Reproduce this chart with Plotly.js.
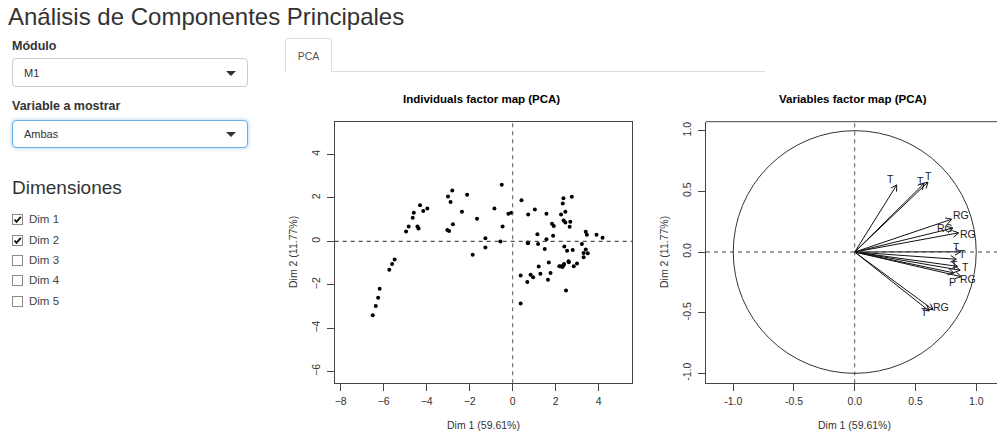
<!DOCTYPE html>
<html>
<head>
<meta charset="utf-8">
<script src="https://cdn.plot.ly/plotly-3.0.1.min.js"></script>
<style>
  html, body { margin:0; padding:0; width:997px; height:433px; overflow:hidden; background:#fff; }
  #plot { position:absolute; left:0; top:0; width:997px; height:433px; }
  .ui { position:absolute; font-family:'Liberation Sans', Arial, sans-serif; color:#333; white-space:nowrap; z-index:5; }
  .lbl { font-weight:bold; font-size:12.5px; line-height:14px; }
  .sel { position:absolute; left:12px; width:236px; border:1px solid #ccc; border-radius:4px; background:#fff; z-index:5; box-sizing:border-box; }
  .sel span { position:absolute; left:11px; font-family:'Liberation Sans', Arial, sans-serif; font-size:11px; color:#333; }
  .caret { position:absolute; right:11px; width:0; height:0; border-left:5px solid transparent; border-right:5px solid transparent; border-top:5px solid #333; }
  .cb { position:absolute; left:12px; width:9px; height:9px; border:1px solid #8a8a8a; background:#fff; z-index:5; }
  .cbl { position:absolute; left:29px; font-family:'Liberation Sans', Arial, sans-serif; font-size:11.5px; color:#444; line-height:12px; z-index:5; }
</style>
</head>
<body>
<div id="plot"></div>

<div class="ui" style="left:8px; top:2px; font-size:24px; line-height:30px;">Análisis de Componentes Principales</div>
<div class="ui lbl" style="left:12px; top:39px;">Módulo</div>
<div class="sel" style="top:58px; height:29px;"><span style="top:8px;">M1</span><div class="caret" style="top:12px;"></div></div>
<div class="ui lbl" style="left:12px; top:99px;">Variable a mostrar</div>
<div class="sel" style="top:120px; height:28px; border-color:#66afe9; box-shadow:0 0 4px rgba(102,175,233,0.6);"><span style="top:7px;">Ambas</span><div class="caret" style="top:11px;"></div></div>
<div class="ui" style="left:12px; top:177px; font-size:19px; line-height:22px;">Dimensiones</div>

<div class="cb" style="top:214px;"><svg width="9" height="9" style="position:absolute;left:0;top:0"><path d="M1.5 4.5 L3.5 6.8 L7.8 1.8" stroke="#111" stroke-width="1.8" fill="none"/></svg></div>
<div class="cbl" style="top:213px;">Dim 1</div>
<div class="cb" style="top:235px;"><svg width="9" height="9" style="position:absolute;left:0;top:0"><path d="M1.5 4.5 L3.5 6.8 L7.8 1.8" stroke="#111" stroke-width="1.8" fill="none"/></svg></div>
<div class="cbl" style="top:234px;">Dim 2</div>
<div class="cb" style="top:255px;"></div>
<div class="cbl" style="top:254px;">Dim 3</div>
<div class="cb" style="top:275px;"></div>
<div class="cbl" style="top:274px;">Dim 4</div>
<div class="cb" style="top:296px;"></div>
<div class="cbl" style="top:295px;">Dim 5</div>

<div style="position:absolute; left:285px; top:71px; width:480px; height:0; border-top:1px solid #ddd; z-index:4;"></div>
<div style="position:absolute; left:285px; top:38px; width:47px; height:34px; border:1px solid #ddd; border-bottom:none; border-radius:4px 4px 0 0; background:#fff; z-index:5; box-sizing:border-box; text-align:center; font-family:'Liberation Sans', Arial, sans-serif; font-size:10.5px; color:#555; line-height:34px;">PCA</div>

<script>
// ---------- Individuals factor map data (Dim 1, Dim 2) ----------
const indDim1 = [-6.51,-6.37,-6.26,-6.19,-5.74,-5.61,-5.49,-4.96,-4.84,-4.65,-4.60,-4.43,-4.38,-4.31,-4.16,-3.97,
  -3.01,-2.89,-2.81,-3.04,-2.96,-2.78,-2.36,-2.12,-1.66,-1.86,-1.27,-1.27,-0.85,-0.51,-0.47,-0.57,-0.20,-0.06,
  0.41,0.37,0.37,0.70,0.71,0.72,0.68,0.83,0.95,1.03,1.15,1.18,1.21,1.29,1.49,1.57,1.57,1.64,1.68,1.76,1.83,1.91,1.88,
  2.17,2.25,2.25,2.31,2.33,2.36,2.37,2.36,2.40,2.45,2.45,2.48,2.53,2.39,2.60,2.61,2.65,2.68,2.75,2.79,2.84,2.99,
  3.22,3.30,3.30,3.40,3.45,3.40,3.49,3.90,4.18];
const indDim2 = [-3.41,-2.98,-2.60,-2.18,-1.31,-1.04,-0.84,0.45,0.68,1.09,1.32,0.68,0.59,1.66,1.40,1.51,
  2.07,1.81,2.34,0.52,0.48,0.79,1.36,2.15,1.04,-0.62,0.14,-0.28,1.51,2.61,0.68,-0.01,1.27,1.32,
  1.89,-1.58,-2.86,-0.05,-0.09,1.23,-1.87,-1.54,-1.65,1.47,0.32,-0.12,-1.16,-1.49,-0.35,1.27,0.09,-1.77,-0.97,-1.46,0.81,0.70,0.26,
  -1.15,1.24,-1.15,-1.18,1.74,1.98,0.96,-1.11,-0.24,0.87,1.36,-2.26,-0.44,-1.05,-0.92,-0.96,0.67,0.90,2.05,-0.40,-1.15,-1.02,
  -0.12,-0.73,-0.54,0.44,0.30,-0.38,-0.55,0.30,0.17];

// ---------- Variables factor map data (correlations with Dim 1, Dim 2) ----------
const varNames = ['T','T','T','RG','RG','RG','T','T','T','T','P','RG','RG','T'];
const varDim1  = [0.346,0.571,0.603,0.798,0.808,0.855,0.873,0.836,0.845,0.868,0.815,0.876,0.645,0.613];
const varDim2  = [0.553,0.565,0.576,0.270,0.197,0.158,0.002,-0.060,-0.118,-0.150,-0.172,-0.203,-0.476,-0.486];
// label offsets from arrow tips, in pixels (style only)
const varLabelDx = [-6,-4, 1, 9,-8, 9,-4, 6,-3, 5,-1, 7, 8,-5];
const varLabelDy = [ 6, 2, 6, 4, 0,-1, 5, 5, 1, 3,-9,-2, 3,-1];

// ---------- axis ticks ----------
const indXTicks = [-8,-6,-4,-2,0,2,4];
const indYTicks = [-6,-4,-2,0,2,4];
const varTicks  = [-1,-0.5,0,0.5,1];
const varTickText = ['-1.0','-0.5','0.0','0.5','1.0'];

// arrow segments built from the variable coordinates
const HEAD = 0.055, ANG = Math.PI/6;
const ax = [], ay = [];
for (let i = 0; i < varDim1.length; i++) {
  const x = varDim1[i], y = varDim2[i], th = Math.atan2(y, x);
  ax.push(0, x, null, x - HEAD*Math.cos(th-ANG), x, x - HEAD*Math.cos(th+ANG), null);
  ay.push(0, y, null, y - HEAD*Math.sin(th-ANG), y, y - HEAD*Math.sin(th+ANG), null);
}

const W = 997, H = 433;
const FONT = 'Liberation Sans, Arial, sans-serif';
const tickFont = {family: FONT, size: 10.5, color: '#333'};

const traces = [
  {type:'scatter', mode:'markers', x: indDim1, y: indDim2, xaxis:'x', yaxis:'y',
   marker:{color:'#000', size:4}, hoverinfo:'none'},
  {type:'scatter', mode:'lines', x: ax, y: ay, xaxis:'x2', yaxis:'y2',
   line:{color:'#111', width:1}, hoverinfo:'none', connectgaps:false}
];

const varAnnotations = varNames.map((name, i) => ({
  text: name, x: varDim1[i], y: varDim2[i], xref:'x2', yref:'y2', showarrow:false,
  xanchor:'center', yanchor:'middle', xshift: varLabelDx[i], yshift: varLabelDy[i],
  font:{family: FONT, size: 10.5, color:'#222'}
}));

const yDom = [(H-383.3)/H, (H-121.7)/H];
const commonAxis = {showgrid:false, zeroline:false, showline:true, linecolor:'#444', linewidth:1,
  ticks:'outside', ticklen:7, tickcolor:'#444', tickwidth:1, tickfont: tickFont, fixedrange:true};

const layout = {
  width: W, height: H, margin:{l:0,r:0,t:0,b:0}, showlegend:false,
  paper_bgcolor:'rgba(0,0,0,0)', plot_bgcolor:'#fff',
  xaxis: Object.assign({}, commonAxis, {domain:[334.7/W, 632/W], range:[-8.28, 5.55], tickmode:'array', tickvals: indXTicks, mirror:true, anchor:'y', ticklabelstandoff:1}),
  yaxis: Object.assign({}, commonAxis, {domain: yDom, range:[-6.54, 5.51], tickmode:'array', tickvals: indYTicks, tickangle:-90, mirror:true, anchor:'x', ticklabelstandoff:3}),
  xaxis2: Object.assign({}, commonAxis, {domain:[706/W, 1], range:[-1.224, 1.171], tickmode:'array', tickvals: varTicks, ticktext: varTickText, mirror:false, anchor:'y2', ticklabelstandoff:1}),
  yaxis2: Object.assign({}, commonAxis, {domain: yDom, range:[-1.082, 1.074], tickmode:'array', tickvals: varTicks, ticktext: varTickText, tickangle:-90, anchor:'x2', ticklabelstandoff:3}),
  shapes: [
    {type:'line', xref:'x', yref:'y domain', x0:0, x1:0, y0:0, y1:1, line:{color:'#555', width:1, dash:'4px,4px'}},
    {type:'line', xref:'x domain', yref:'y', x0:0, x1:1, y0:0, y1:0, line:{color:'#222', width:1, dash:'4px,4px'}},
    {type:'line', xref:'x2', yref:'y2 domain', x0:0, x1:0, y0:0, y1:1, line:{color:'#555', width:1, dash:'4px,4px'}},
    {type:'line', xref:'x2 domain', yref:'y2', x0:0, x1:1, y0:0, y1:0, line:{color:'#444', width:1, dash:'4px,4px'}},
    {type:'circle', xref:'x2', yref:'y2', x0:-1, x1:1, y0:-1, y1:1, line:{color:'#333', width:1}},
    {type:'line', xref:'x2 domain', yref:'y2 domain', x0:0, x1:1, y0:1, y1:1, line:{color:'#444', width:1}}
  ],
  annotations: [
    {text:'<b>Individuals factor map (PCA)</b>', xref:'paper', yref:'paper', x:481/W, y:1-99/H, showarrow:false, xanchor:'center', yanchor:'middle', font:{family:FONT, size:11.5, color:'#000'}},
    {text:'<b>Variables factor map (PCA)</b>', xref:'paper', yref:'paper', x:853/W, y:1-99/H, showarrow:false, xanchor:'center', yanchor:'middle', font:{family:FONT, size:11.5, color:'#000'}},
    {text:'Dim 1 (59.61%)', xref:'paper', yref:'paper', x:483/W, y:1-425/H, showarrow:false, xanchor:'center', yanchor:'middle', font:{family:FONT, size:10.5, color:'#333'}},
    {text:'Dim 1 (59.61%)', xref:'paper', yref:'paper', x:854/W, y:1-425/H, showarrow:false, xanchor:'center', yanchor:'middle', font:{family:FONT, size:10.5, color:'#333'}},
    {text:'Dim 2 (11.77%)', xref:'paper', yref:'paper', x:293/W, y:1-252/H, showarrow:false, textangle:-90, xanchor:'center', yanchor:'middle', font:{family:FONT, size:10.5, color:'#333'}},
    {text:'Dim 2 (11.77%)', xref:'paper', yref:'paper', x:664/W, y:1-252/H, showarrow:false, textangle:-90, xanchor:'center', yanchor:'middle', font:{family:FONT, size:10.5, color:'#333'}}
  ].concat(varAnnotations)
};

Plotly.newPlot('plot', traces, layout, {displayModeBar:false, staticPlot:true});
</script>
</body>
</html>
